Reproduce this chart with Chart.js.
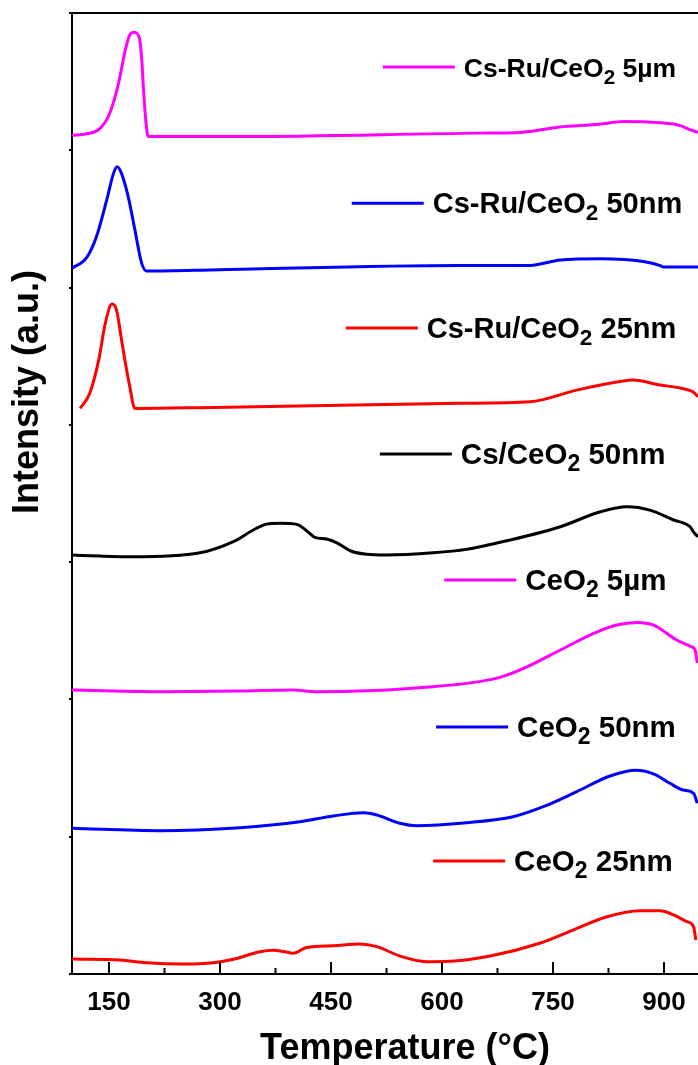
<!DOCTYPE html>
<html>
<head>
<meta charset="utf-8">
<script src="https://cdn.jsdelivr.net/npm/chart.js@4"></script>
<style>
  html, body { margin: 0; padding: 0; overflow: hidden; background: #fff; }
</style>
</head>
<body>
<canvas id="tprChart" width="750" height="1075"></canvas>
<script>
// H2-TPR profiles (curves are offset vertically, a.u.)

const xTickValues = [150, 225, 300, 375, 450, 525, 600, 675, 750, 825, 900, 975];

const csRu5umT = [100, 120, 138, 151, 163, 172, 178, 184, 191, 194, 197, 200, 203, 327, 651, 705, 759, 813, 845, 895, 922, 935, 946];
const csRu5umY = [6.11, 6.12, 6.16, 6.27, 6.49, 6.73, 6.84, 6.86, 6.82, 6.68, 6.41, 6.20, 6.10, 6.10, 6.125, 6.13, 6.17, 6.19, 6.21, 6.20, 6.18, 6.15, 6.13];

const csRu50nmT = [100, 120, 133, 147, 156, 161, 167, 176, 185, 194, 201, 300, 624, 715, 760, 814, 872, 895, 899, 946];
const csRu50nmY = [5.14, 5.22, 5.37, 5.64, 5.83, 5.88, 5.83, 5.66, 5.42, 5.18, 5.12, 5.13, 5.16, 5.16, 5.20, 5.21, 5.19, 5.16, 5.15, 5.15];

const csRu25nmT = [111, 124, 136, 145, 154, 160, 169, 178, 185, 273, 624, 719, 782, 845, 858, 895, 922, 939, 946];
const csRu25nmY = [4.12, 4.23, 4.47, 4.74, 4.88, 4.84, 4.55, 4.28, 4.12, 4.125, 4.157, 4.168, 4.253, 4.319, 4.326, 4.29, 4.268, 4.241, 4.205];

const cs50nmT = [100, 138, 182, 273, 318, 345, 363, 381, 404, 417, 428, 444, 458, 476, 498, 525, 588, 633, 692, 760, 814, 850, 881, 913, 935, 941, 946];
const cs50nmY = [3.052, 3.044, 3.039, 3.068, 3.149, 3.234, 3.277, 3.283, 3.275, 3.229, 3.181, 3.168, 3.141, 3.083, 3.057, 3.052, 3.068, 3.093, 3.161, 3.258, 3.367, 3.404, 3.379, 3.307, 3.258, 3.212, 3.185];

const ceo5umT = [100, 228, 327, 399, 431, 498, 588, 633, 678, 715, 760, 805, 836, 863, 886, 917, 937, 942, 945];
const ceo5umY = [2.068, 2.056, 2.061, 2.068, 2.056, 2.063, 2.093, 2.117, 2.161, 2.238, 2.36, 2.481, 2.542, 2.561, 2.542, 2.433, 2.384, 2.36, 2.265];

const ceo50nmT = [100, 219, 327, 408, 453, 494, 512, 543, 566, 633, 696, 737, 782, 827, 862, 888, 908, 926, 940, 945];
const ceo50nmY = [1.061, 1.044, 1.066, 1.109, 1.151, 1.175, 1.158, 1.098, 1.08, 1.102, 1.146, 1.219, 1.328, 1.442, 1.484, 1.453, 1.389, 1.34, 1.316, 1.243];

const ceo25nmT = [100, 165, 201, 250, 291, 318, 354, 372, 386, 399, 417, 453, 489, 512, 543, 579, 604, 665, 732, 777, 823, 868, 895, 913, 931, 940, 943];
const ceo25nmY = [0.109, 0.102, 0.082, 0.073, 0.082, 0.107, 0.162, 0.173, 0.164, 0.151, 0.193, 0.206, 0.218, 0.199, 0.131, 0.09, 0.091, 0.131, 0.224, 0.32, 0.417, 0.461, 0.461, 0.43, 0.381, 0.344, 0.248];

const FONT = "'Liberation Sans', Arial, sans-serif";

function pts(xs, ys) {
    return xs.map((x, i) => ({ x: x, y: ys[i] }));
}

function curve(data, color) {
    return {
        data: data,
        borderColor: color,
        borderWidth: 3,
        pointRadius: 0,
        fill: false,
        cubicInterpolationMode: 'monotone',
    };
}

// frame top edge and the inward ticks on the temperature axis
const frameTicks = {
    id: 'frameTicks',
    afterDatasetsDraw(chart) {
        const { ctx, chartArea, scales } = chart;
        ctx.save();
        ctx.strokeStyle = '#000';
        ctx.lineWidth = 2;
        ctx.beginPath();
        ctx.moveTo(chartArea.left - 1, chartArea.top);
        ctx.lineTo(chartArea.right, chartArea.top);
        ctx.stroke();
        scales.x.ticks.forEach(t => {
            const px = scales.x.getPixelForValue(t.value);
            const len = t.value % 150 === 0 ? 12 : 6;
            ctx.beginPath();
            ctx.moveTo(px, chartArea.bottom);
            ctx.lineTo(px, chartArea.bottom - len);
            ctx.stroke();
        });
        ctx.restore();
    }
};

// the per-curve labels with a line sample, and the y title
const sampleLabels = {
    id: 'sampleLabels',
    afterDraw(chart, args, opts) {
        const { ctx, scales } = chart;
        ctx.save();
        opts.items.forEach(item => {
            const x0 = scales.x.getPixelForValue(item.at[0]);
            const y0 = scales.y.getPixelForValue(item.at[1]);
            ctx.strokeStyle = chart.data.datasets[item.ds].borderColor;
            ctx.lineWidth = 3;
            ctx.beginPath();
            ctx.moveTo(x0, y0);
            ctx.lineTo(x0 + 72, y0);
            ctx.stroke();
            ctx.fillStyle = '#000';
            ctx.textBaseline = 'alphabetic';
            let x = x0 + 81;
            item.parts.forEach(p => {
                const sub = p[1];
                const size = sub ? item.size * 0.78 : item.size;
                ctx.font = 'bold ' + size + 'px ' + FONT;
                ctx.fillText(p[0], x, y0 + (sub ? 17 : 10));
                x += ctx.measureText(p[0]).width;
            });
        });

        ctx.translate(28, 392);
        ctx.rotate(-Math.PI / 2);
        ctx.font = 'bold 36px ' + FONT;
        ctx.textAlign = 'center';
        ctx.textBaseline = 'middle';
        ctx.fillText('Intensity (a.u.)', 0, 0);
        ctx.restore();
    }
};

const ctx = document.getElementById('tprChart').getContext('2d');

new Chart(ctx, {
    type: 'line',
    data: {
        datasets: [
            curve(pts(csRu5umT, csRu5umY), '#FF00FF'),
            curve(pts(csRu50nmT, csRu50nmY), '#0000FF'),
            curve(pts(csRu25nmT, csRu25nmY), '#FF0000'),
            curve(pts(cs50nmT, cs50nmY), '#000000'),
            curve(pts(ceo5umT, ceo5umY), '#FF00FF'),
            curve(pts(ceo50nmT, ceo50nmY), '#0000FF'),
            curve(pts(ceo25nmT, ceo25nmY), '#FF0000'),
        ],
    },
    options: {
        responsive: false,
        animation: false,
        layout: { padding: { left: 69, top: 13, right: 12, bottom: 4 } },
        plugins: {
            legend: { display: false },
            tooltip: { enabled: false },
            sampleLabels: {
                items: [
                    { ds: 0, size: 26.5, at: [520, 6.606], parts: [['Cs-Ru/CeO'], ['2', true], [' 5µm']] },
                    { ds: 1, size: 29, at: [478, 5.615], parts: [['Cs-Ru/CeO'], ['2', true], [' 50nm']] },
                    { ds: 2, size: 29, at: [470, 4.705], parts: [['Cs-Ru/CeO'], ['2', true], [' 25nm']] },
                    { ds: 3, size: 29.5, at: [516, 3.787], parts: [['Cs/CeO'], ['2', true], [' 50nm']] },
                    { ds: 4, size: 29.5, at: [603, 2.870], parts: [['CeO'], ['2', true], [' 5µm']] },
                    { ds: 5, size: 29.5, at: [592, 1.799], parts: [['CeO'], ['2', true], [' 50nm']] },
                    { ds: 6, size: 29.5, at: [588, 0.823], parts: [['CeO'], ['2', true], [' 25nm']] },
                ],
            },
        },
        scales: {
            x: {
                type: 'linear',
                min: 100,
                max: 1000,
                afterBuildTicks: scale => {
                    scale.ticks = xTickValues.map(v => ({ value: v }));
                },
                afterFit: scale => {
                    scale.height = 97;
                },
                grid: { display: false },
                border: { display: true, width: 2, color: '#000' },
                ticks: {
                    autoSkip: false,
                    maxRotation: 0,
                    padding: 5,
                    color: '#000',
                    font: { family: FONT, size: 26, weight: 'bold' },
                    callback: v => (v % 150 === 0 ? v : ''),
                },
                title: {
                    display: true,
                    text: 'Temperature (°C)',
                    color: '#000',
                    font: { family: FONT, size: 36, weight: 'bold' },
                    padding: { top: 0, bottom: 0 },
                },
            },
            y: {
                min: 0,
                max: 7,
                grid: { drawOnChartArea: false, drawTicks: true, tickLength: 3, color: '#000', lineWidth: 2 },
                border: { display: true, width: 2, color: '#000' },
                ticks: { display: false, stepSize: 1 },
            },
        },
    },
    plugins: [frameTicks, sampleLabels],
});
</script>
</body>
</html>
